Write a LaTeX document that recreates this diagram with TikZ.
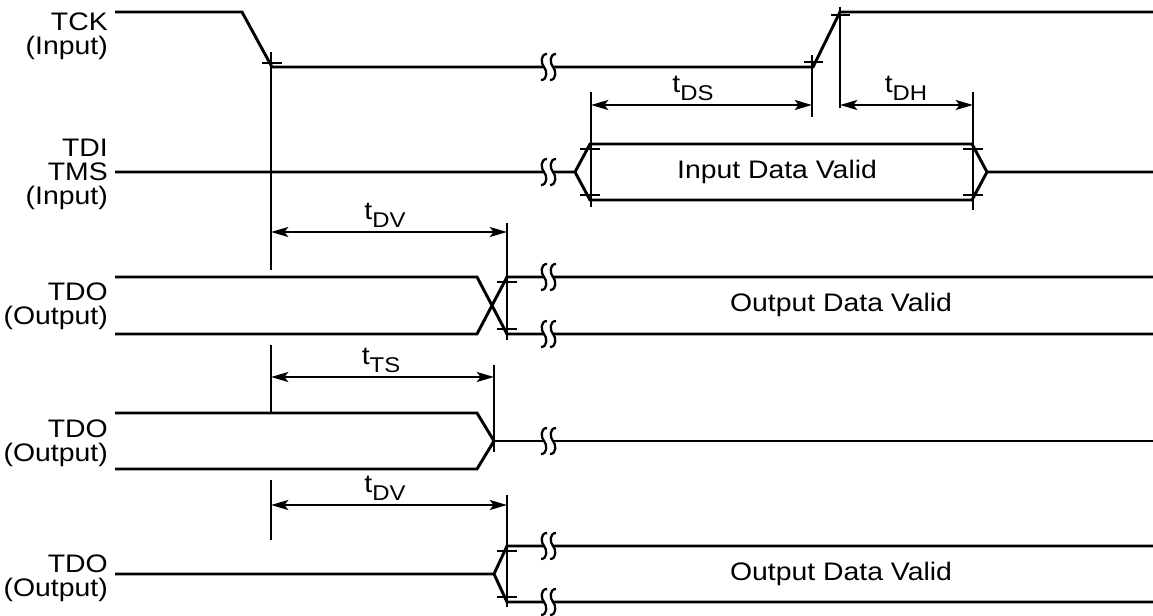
\documentclass[tikz,border=0pt]{standalone}
\usepackage{fontspec}
\setmainfont{Liberation Sans}[FakeStretch=1.12]
\usetikzlibrary{arrows.meta}
\newcommand{\tsub}[2]{#1\raisebox{-0.32em}{\fontsize{16}{16}\selectfont #2}}
\begin{document}
\begin{tikzpicture}[x=0.75pt,y=-0.75pt,
  sig/.style={line width=2.2pt,line join=miter},
  thinln/.style={line width=1.5pt},
  dim/.style={line width=1.5pt,{Stealth[length=13pt,width=7.5pt,inset=3pt]}-{Stealth[length=13pt,width=7.5pt,inset=3pt]}},
  lbl/.style={font=\fontsize{19}{22}\selectfont,anchor=base east,inner sep=0pt},
  txt/.style={font=\fontsize{19}{22}\selectfont,inner sep=0pt},
  brk/.pic={
    \fill[white] (0,-9) rectangle (9,9);
    \draw[line width=1.7pt] (3,-13) .. controls (-4,-13) and (-3,-3) .. (0,0) .. controls (3,3) and (4,13) .. (-3,13);
    \draw[line width=1.7pt] (12,-13) .. controls (5,-13) and (6,-3) .. (9,0) .. controls (12,3) and (13,13) .. (6,13);
  }]
\useasboundingbox (0,0) rectangle (1153,616);

% ---------- left labels ----------
\node[lbl] (tck) at (108,31) {TCK};
\node[lbl] (tckin) at (108,55) {(Input)};
\node[lbl] (tdi) at (108,157) {TDI};
\node[lbl] (tms) at (108,181) {TMS};
\node[lbl] (tdiin) at (108,205) {(Input)};
\node[lbl] (tdoa) at (108,301) {TDO};
\node[lbl] (tdoaout) at (108,325) {(Output)};
\node[lbl] (tdob) at (108,437) {TDO};
\node[lbl] (tdobout) at (108,461) {(Output)};
\node[lbl] (tdoc) at (108,572) {TDO};
\node[lbl] (tdocout) at (108,596) {(Output)};

% ---------- TCK ----------
\draw[sig] (115,12) -- (242,12) -- (272,67) -- (813,67) -- (840,12) -- (1153,12);
\pic at (544,67) {brk};

% ---------- TDI / TMS ----------
\draw[sig] (115,172) -- (575,172) -- (590,144) -- (972,144) -- (987,172) -- (1153,172);
\draw[sig] (575,172) -- (590,200) -- (972,200) -- (987,172);
\pic at (544,172) {brk};
\node[txt] (idv) at (777,172) {Input Data Valid};

% ---------- TDO row 1 ----------
\draw[sig] (115,277) -- (477,277) -- (507,334) -- (1153,334);
\draw[sig] (115,334) -- (477,334) -- (507,277) -- (1153,277);
\pic at (544,277) {brk};
\pic at (544,334) {brk};
\node[txt] (odv1) at (841,305) {Output Data Valid};

% ---------- TDO row 2 ----------
\draw[sig] (115,413) -- (477,413) -- (494,441) -- (477,469) -- (115,469);
\draw[sig] (494,441) -- (1153,441);
\pic at (544,441) {brk};

% ---------- TDO row 3 ----------
\draw[sig] (115,574) -- (494,574) -- (507,546) -- (1153,546);
\draw[sig] (494,574) -- (507,602) -- (1153,602);
\pic at (544,546) {brk};
\pic at (544,602) {brk};
\node[txt] (odv2) at (841,574) {Output Data Valid};

% ---------- reference lines ----------
\draw[thinln] (271,52) -- (271,270);
\draw[thinln] (812,55) -- (812,117);
\draw[thinln] (840,7) -- (840,108);
\draw[thinln] (591,92) -- (591,207);
\draw[thinln] (973,92) -- (973,210);
\draw[thinln] (507,223) -- (507,340);
\draw[thinln] (271,345) -- (271,412);
\draw[thinln] (494,365) -- (494,452);
\draw[thinln] (271,480) -- (271,540);
\draw[thinln] (507,495) -- (507,607);

% ---------- ticks ----------
\draw[thinln] (262,63) -- (282,63);
\draw[thinln] (804,62) -- (823,62);
\draw[thinln] (831,15) -- (850,15);
\draw[thinln] (580,149) -- (600,149);
\draw[thinln] (580,195) -- (600,195);
\draw[thinln] (963,149) -- (983,149);
\draw[thinln] (963,195) -- (983,195);
\draw[thinln] (497,282) -- (517,282);
\draw[thinln] (497,329) -- (517,329);
\draw[thinln] (497,551) -- (517,551);
\draw[thinln] (497,597) -- (517,597);

% ---------- dimension arrows ----------
\coordinate (ds1) at (591,105); \coordinate (ds2) at (812,105);
\draw[dim] (ds1) -- (ds2);
\node[txt] (tds) at (693,88) {\tsub{t}{DS}};
\coordinate (dh1) at (840,105); \coordinate (dh2) at (973,105);
\draw[dim] (dh1) -- (dh2);
\node[txt] (tdh) at (906,88) {\tsub{t}{DH}};
\coordinate (dv1) at (271,232); \coordinate (dv2) at (507,232);
\draw[dim] (dv1) -- (dv2);
\node[txt] (tdv1) at (385,215) {\tsub{t}{DV}};
\coordinate (ts1) at (271,377); \coordinate (ts2) at (494,377);
\draw[dim] (ts1) -- (ts2);
\node[txt] (tts) at (381,360) {\tsub{t}{TS}};
\coordinate (dw1) at (271,505); \coordinate (dw2) at (507,505);
\draw[dim] (dw1) -- (dw2);
\node[txt] (tdv2) at (385,488) {\tsub{t}{DV}};
\end{tikzpicture}
\end{document}
